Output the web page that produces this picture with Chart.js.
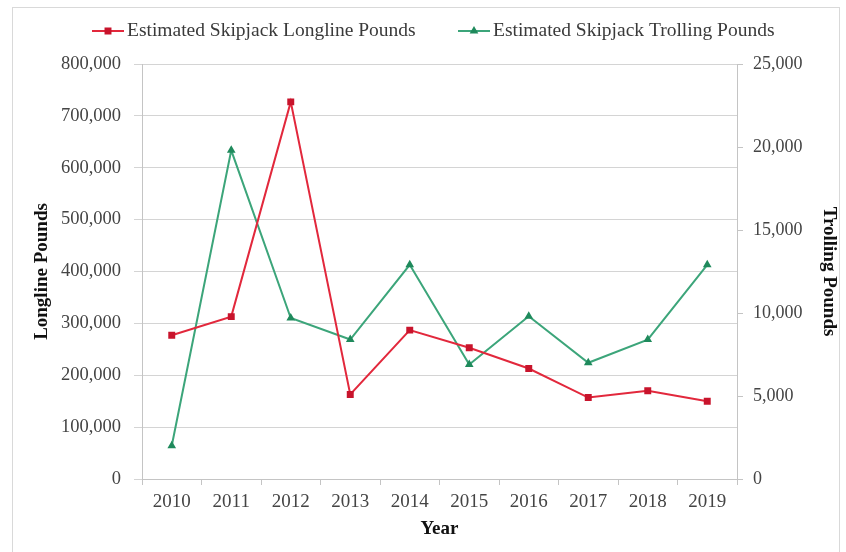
<!DOCTYPE html>
<html>
<head>
<meta charset="utf-8">
<script src="https://cdn.jsdelivr.net/npm/chart.js@4.4.1/dist/chart.umd.min.js"></script>
<style>
  html, body { margin: 0; padding: 0; background: #fff; }
  #wrap { position: relative; width: 846px; height: 552px; overflow: hidden; }
  #frame { position: absolute; left: 12px; top: 7px; width: 828px; height: 560px; border: 1px solid #d9d9d9; box-sizing: border-box; }
  canvas { position: absolute; left: 0; top: 0; }
</style>
</head>
<body>
<div id="wrap">
  <div id="frame"></div>
  <canvas id="chart" width="846" height="552"></canvas>
</div>
<script>
// data
const years = ['2010', '2011', '2012', '2013', '2014', '2015', '2016', '2017', '2018', '2019'];
const longlinePounds = [277000, 313000, 727000, 163000, 287000, 253000, 213000, 157000, 170000, 150000];
const trollingPounds = [2000, 19800, 9700, 8400, 12900, 6900, 9800, 7000, 8400, 12900];
const longlineTicks = [0, 100000, 200000, 300000, 400000, 500000, 600000, 700000, 800000];
const trollingTicks = [0, 5000, 10000, 15000, 20000, 25000];

const serif = '"Liberation Serif", "DejaVu Serif", serif';
const tickColor = '#444';
const gridColor = '#d4d4d4';
const axisColor = '#c4c4c4';
const fmt = v => Number(v).toLocaleString('en-US');

// legend drawn as line + marker, like the Excel original
const legendXs = [92, 458];
const lineLegend = {
  id: 'lineLegend',
  afterDraw(chart) {
    const ctx = chart.ctx;
    ctx.save();
    chart.data.datasets.forEach((ds, i) => {
      const x = legendXs[i], y = 31;
      ctx.strokeStyle = ds.borderColor; ctx.lineWidth = 2;
      ctx.beginPath(); ctx.moveTo(x, y); ctx.lineTo(x + 32, y); ctx.stroke();
      ctx.fillStyle = ds.pointBackgroundColor; ctx.strokeStyle = ds.pointBorderColor;
      Chart.helpers.drawPoint(ctx, {pointStyle: ds.pointStyle, radius: ds.pointRadius, borderWidth: 1}, x + 16, y);
      ctx.fillStyle = '#3a3a3a';
      ctx.font = '19.5px ' + serif;
      ctx.textBaseline = 'middle';
      ctx.fillText(ds.label, x + 35, y);
    });
    ctx.restore();
  }
};

new Chart(document.getElementById('chart'), {
  type: 'line',
  data: {
    labels: years,
    datasets: [
      {
        label: 'Estimated Skipjack Longline Pounds',
        data: longlinePounds, yAxisID: 'y',
        borderColor: '#e2283c', borderWidth: 2,
        pointStyle: 'rect', pointRadius: 3.5,
        pointBackgroundColor: '#c8142c', pointBorderColor: '#c8142c',
        tension: 0
      },
      {
        label: 'Estimated Skipjack Trolling Pounds',
        data: trollingPounds, yAxisID: 'y1',
        borderColor: '#3ca57a', borderWidth: 2,
        pointStyle: 'triangle', pointRadius: 3,
        pointBackgroundColor: '#1f8a5c', pointBorderColor: '#1f8a5c',
        tension: 0
      }
    ]
  },
  options: {
    responsive: false,
    animation: false,
    layout: { padding: { top: 64, left: 14, right: 6, bottom: 8 } },
    plugins: { legend: { display: false }, tooltip: { enabled: false } },
    scales: {
      x: {
        offset: true,
        afterFit: s => { s.height = 65; },
        grid: { display: true, drawOnChartArea: false, offset: true, color: axisColor, tickLength: 6 },
        border: { color: axisColor },
        ticks: { color: tickColor, padding: 6, font: { family: serif, size: 19 } },
        title: { display: true, text: 'Year', color: '#111', padding: { top: 0, bottom: 4 }, font: { family: serif, size: 19, weight: 'bold' } }
      },
      y: {
        position: 'left', min: 0, max: 800000,
        afterFit: s => { s.width = 128; },
        afterBuildTicks: s => { s.ticks = longlineTicks.map(v => ({ value: v })); },
        grid: { color: gridColor, tickLength: 8 },
        border: { color: axisColor },
        ticks: { color: tickColor, padding: 13, font: { family: serif, size: 18.5 }, callback: v => fmt(v) },
        title: { display: true, text: 'Longline Pounds', color: '#111', padding: { top: 17, bottom: 0 }, font: { family: serif, size: 19, weight: 'bold' } }
      },
      y1: {
        position: 'right', min: 0, max: 25000,
        afterFit: s => { s.width = 103; },
        afterBuildTicks: s => { s.ticks = trollingTicks.map(v => ({ value: v })); },
        grid: { drawOnChartArea: false, color: axisColor, tickLength: 6 },
        border: { color: axisColor },
        ticks: { color: tickColor, padding: 10, font: { family: serif, size: 18 }, callback: v => fmt(v) },
        title: { display: true, text: 'Trolling Pounds', color: '#111', padding: { top: 0, bottom: 0 }, font: { family: serif, size: 19, weight: 'bold' } }
      }
    }
  },
  plugins: [lineLegend]
});
</script>
</body>
</html>
